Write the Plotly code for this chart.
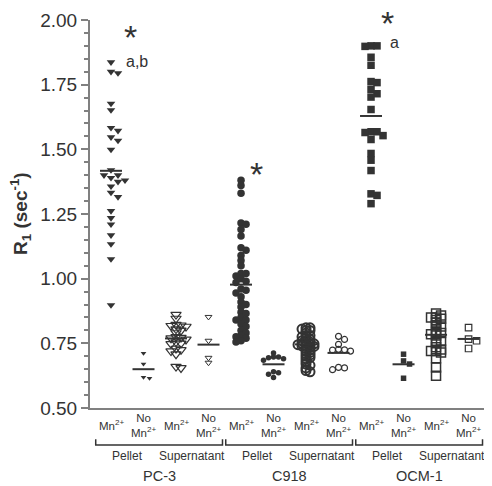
import plotly.graph_objects as go

# ---------------- data ----------------
groups = ["PC-3", "C918", "OCM-1"]
fractions = ["Pellet", "Supernatant"]
treatments = ["Mn<sup>2+</sup>", "No<br>Mn<sup>2+</sup>"]

pc3_pellet_mn = [1.837, 1.80, 1.795, 1.677, 1.652, 1.583, 1.572, 1.547, 1.534, 1.499,
                 1.42, 1.40, 1.40, 1.39, 1.38, 1.375, 1.357, 1.333, 1.316, 1.262,
                 1.235, 1.21, 1.168, 1.134, 1.076, 0.898]
pc3_pellet_nomn = [0.712, 0.670, 0.619, 0.615]
pc3_sup_mn = [0.861, 0.846, 0.822, 0.820, 0.818, 0.815, 0.805, 0.800, 0.790, 0.775,
              0.772, 0.770, 0.765, 0.755, 0.750, 0.748, 0.730, 0.725, 0.720, 0.708,
              0.660, 0.655]
pc3_sup_nomn = [0.852, 0.760, 0.694, 0.675]

c918_pellet_mn = [1.38, 1.36, 1.33, 1.215, 1.21, 1.19, 1.165, 1.12, 1.11, 1.09,
                  1.07, 1.05, 1.02, 1.02, 1.01, 1.00, 0.99, 0.985, 0.96, 0.955,
                  0.945, 0.93, 0.91, 0.90, 0.89, 0.87, 0.865, 0.85, 0.84, 0.84,
                  0.825, 0.815, 0.80, 0.79, 0.78, 0.775, 0.77, 0.76, 0.755]
c918_pellet_nomn = [0.713, 0.697, 0.697, 0.694, 0.690, 0.685, 0.640, 0.636, 0.630, 0.618]
c918_sup_mn = [0.81, 0.81, 0.805, 0.80, 0.80, 0.79, 0.78, 0.78, 0.775, 0.77,
               0.765, 0.76, 0.76, 0.755, 0.75, 0.75, 0.748, 0.745, 0.745, 0.742,
               0.74, 0.738, 0.735, 0.73, 0.725, 0.72, 0.715, 0.71, 0.705, 0.70,
               0.695, 0.69, 0.68, 0.67, 0.665, 0.655, 0.645, 0.64]
c918_sup_nomn = [0.777, 0.765, 0.746, 0.727, 0.725, 0.724, 0.720, 0.657, 0.655, 0.648]

ocm_pellet_mn = [1.90, 1.898, 1.90, 1.856, 1.825, 1.762, 1.758, 1.732, 1.715, 1.702,
                 1.654, 1.568, 1.568, 1.565, 1.553, 1.538, 1.484, 1.458, 1.418, 1.328,
                 1.322, 1.290]
ocm_pellet_nomn = [0.708, 0.682, 0.670, 0.615]
ocm_sup_mn = [0.865, 0.858, 0.850, 0.850, 0.845, 0.840, 0.830, 0.820, 0.815, 0.800,
              0.790, 0.790, 0.785, 0.780, 0.760, 0.758, 0.750, 0.735, 0.726, 0.720,
              0.720, 0.715, 0.692, 0.657, 0.625]
ocm_sup_nomn = [0.811, 0.766, 0.760, 0.730]

series = [pc3_pellet_mn, pc3_pellet_nomn, pc3_sup_mn, pc3_sup_nomn,
          c918_pellet_mn, c918_pellet_nomn, c918_sup_mn, c918_sup_nomn,
          ocm_pellet_mn, ocm_pellet_nomn, ocm_sup_mn, ocm_sup_nomn]
means = [1.417, 0.650, 0.769, 0.745,
         0.977, 0.669, 0.746, 0.713,
         1.629, 0.669, 0.783, 0.767]

sig_text = ["*", "*", "*"]
sig_letters = ["a,b", "", "a"]
sig_y = [1.935, 1.405, 1.99]
letter_y = [1.84, None, 1.913]

# ---------------- style ----------------
DARK = "#333333"
AXIS = "#808080"
FONT = "Liberation Sans, Arial, sans-serif"
X_RANGE = [-0.646, 11.66]
Y_RANGE = [0.5, 2.0]
PLOT_W, PLOT_H = 400, 396
PX_X = PLOT_W / (X_RANGE[1] - X_RANGE[0])
PX_Y = PLOT_H / (Y_RANGE[1] - Y_RANGE[0])

# symbol, size, filled, line width, column step px, vertical gap px
styles = [
    ("triangle-down", 7.5, True, 0, 7, 5.5),
    ("triangle-down", 5, True, 0, 6, 4.5),
    ("triangle-down-open", 9, False, 1.2, 5, 3.0),
    ("triangle-down-open", 6, False, 1.0, 6, 4.5),
    ("circle", 7.5, True, 0, 5, 4.0),
    ("circle", 5.5, True, 0, 5, 4.0),
    ("circle-open", 9, False, 2.0, 4, 2.0),
    ("circle-open", 6, False, 1.2, 6, 5.0),
    ("square", 7.5, True, 0, 6, 5.5),
    ("square", 5.5, True, 0, 6, 5.0),
    ("square-open", 9, False, 1.5, 5, 2.5),
    ("square-open", 6.5, False, 1.2, 8, 5.0),
]


def swarm(vals, step, gap):
    ys = [v * PX_Y for v in vals]
    order = sorted(range(len(vals)), key=lambda i: -vals[i])
    cols = {}
    off = [0.0] * len(vals)
    seq = [0]
    for k in range(1, 20):
        seq += [k, -k]
    for i in order:
        for c in seq:
            if all(abs(ys[i] - yy) >= gap for yy in cols.get(c, [])):
                cols.setdefault(c, []).append(ys[i])
                off[i] = c * step / PX_X
                break
    return off


fig = go.Figure()

for i, vals in enumerate(series):
    sym, size, filled, lw, step, gap = styles[i]
    offs = swarm(vals, step, gap)
    fig.add_trace(go.Scatter(
        x=[i + o for o in offs], y=vals, mode="markers",
        marker=dict(symbol=sym, size=size,
                    color=DARK,
                    line=dict(width=lw, color=DARK)),
        showlegend=False, hoverinfo="y"))
    half = 11 / PX_X
    fig.add_trace(go.Scatter(
        x=[i - half, i + half], y=[means[i], means[i]], mode="lines",
        line=dict(color=DARK, width=2), showlegend=False, hoverinfo="skip"))

annotations = []
# category labels
for i in range(12):
    annotations.append(dict(x=i, y=-0.0445, xref="x", yref="paper",
                            text=treatments[i % 2], showarrow=False,
                            xanchor="center", yanchor="middle",
                            font=dict(family=FONT, size=11.5, color=DARK)))
# fraction labels
for g in range(3):
    for f in range(2):
        annotations.append(dict(x=4 * g + 2 * f + 0.5, y=-0.1237, xref="x", yref="paper",
                                text=fractions[f], showarrow=False,
                                xanchor="center", yanchor="middle",
                                font=dict(family=FONT, size=12, color=DARK)))
    annotations.append(dict(x=4 * g + 1.5, y=-0.174, xref="x", yref="paper",
                            text=groups[g], showarrow=False,
                            xanchor="center", yanchor="middle",
                            font=dict(family=FONT, size=14.5, color=DARK)))

# significance marks
sig_x = [0.615, 4.49, 8.52]
for g in range(3):
    annotations.append(dict(x=sig_x[g], y=sig_y[g], xref="x", yref="y",
                            text=sig_text[g], showarrow=False,
                            xanchor="center", yanchor="middle",
                            font=dict(family=FONT, size=34, color=DARK)))
    if sig_letters[g]:
        annotations.append(dict(x=sig_x[g] + 0.2, y=letter_y[g], xref="x", yref="y",
                                text=sig_letters[g], showarrow=False,
                                xanchor="center", yanchor="middle",
                                font=dict(family=FONT, size=16, color=DARK)))

# y title
annotations.append(dict(x=-0.175, y=0.5, xref="paper", yref="paper",
                        text="<b>R<sub>1</sub> (sec<sup>-1</sup>)</b>",
                        textangle=-90, showarrow=False,
                        xanchor="center", yanchor="middle",
                        font=dict(family=FONT, size=19, color=DARK)))

# brackets
shapes = []
for g in range(3):
    x0, x1 = 4 * g - 0.47, 4 * g + 3.43
    shapes.append(dict(type="path", xref="x", yref="paper",
                       path=f"M {x0},-0.0808 L {x0},-0.0952 L {x1},-0.0952 L {x1},-0.0808",
                       line=dict(color=DARK, width=1.5)))

# page body has an 8px margin: size the figure so the plot area lands at (90,12)-(490,408)
fig.update_layout(
    width=484, height=478,
    margin=dict(l=82, r=2, t=4, b=78),
    plot_bgcolor="white", paper_bgcolor="white",
    font=dict(family=FONT, color=DARK),
    annotations=annotations, shapes=shapes,
    xaxis=dict(range=X_RANGE, showline=True, linecolor=AXIS, linewidth=2,
               showticklabels=False, ticks="", showgrid=False, zeroline=False),
    yaxis=dict(range=Y_RANGE, showline=True, linecolor=AXIS, linewidth=2,
               tickmode="array", tickvals=[0.5, 0.75, 1.0, 1.25, 1.5, 1.75, 2.0],
               tickformat=".2f", ticks="outside", ticklen=7, tickwidth=2, tickcolor=AXIS,
               ticklabeloverflow="allow",
               minor=dict(dtick=0.05, tick0=0.5, ticks="outside", ticklen=4,
                          tickwidth=1.5, tickcolor=AXIS),
               tickfont=dict(family=FONT, size=19, color=DARK),
               showgrid=False, zeroline=False),
)

fig.write_html("out.html")
